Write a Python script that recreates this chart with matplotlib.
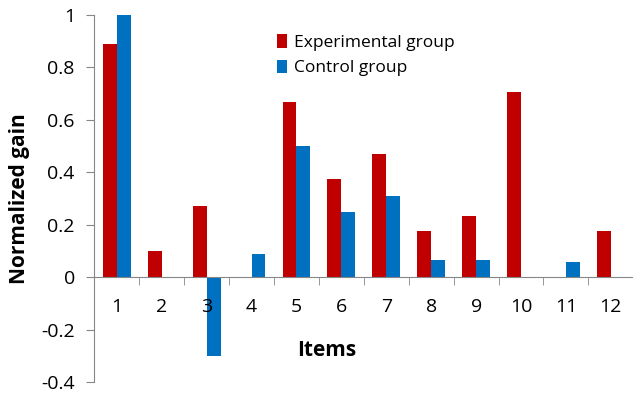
import numpy as np
import matplotlib.pyplot as plt
from matplotlib.ticker import FixedLocator, NullFormatter

plt.rcParams['font.family'] = ['Open Sans', 'DejaVu Sans']

items = ['1', '2', '3', '4', '5', '6', '7', '8', '9', '10', '11', '12']
experimental = [0.89, 0.10, 0.27, 0.0, 0.667, 0.375, 0.47, 0.177, 0.235, 0.706, 0.0, 0.177]
control = [1.0, 0.0, -0.30, 0.09, 0.50, 0.25, 0.31, 0.066, 0.066, 0.0, 0.058, 0.0]

fig = plt.figure(figsize=(6.33, 3.96), dpi=100)
ax = fig.add_axes([0.149, 0.0354, 0.8515, 0.9268])

x = np.arange(1, len(items) + 1)
w = 0.31
ax.bar(x - w / 2, experimental, width=w, color='#C00000', label='Experimental group')
ax.bar(x + w / 2, control, width=w, color='#0070C0', label='Control group')

ax.set_xlim(0.5, 12.5)
ax.set_ylim(-0.4, 1.0)
ax.set_yticks(np.arange(-0.4, 1.01, 0.2))
ax.set_yticklabels(['-0.4', '-0.2', '0', '0.2', '0.4', '0.6', '0.8', '1'])

ax.set_xticks(x)
ax.set_xticklabels(items)
ax.xaxis.set_minor_locator(FixedLocator(np.arange(1.5, 12.5, 1)))
ax.xaxis.set_minor_formatter(NullFormatter())
ax.tick_params(axis='x', which='major', length=0, pad=15, labelsize=14)
ax.tick_params(axis='x', which='minor', length=6, direction='out', color='#868686')
ax.tick_params(axis='y', length=6, direction='out', color='#868686', pad=8, labelsize=14)

for s in ['top', 'right']:
    ax.spines[s].set_visible(False)
ax.spines['bottom'].set_position(('data', 0))
ax.spines['bottom'].set_color('#868686')
ax.spines['left'].set_color('#868686')

ax.set_ylabel('Normalized gain', fontsize=15, fontweight='bold', labelpad=8)
ax.text(5.68, -0.28, 'Items', fontsize=15, fontweight='bold', ha='center', va='center')

ax.legend(loc='upper left', bbox_to_anchor=(0.31, 0.99), frameon=False, fontsize=12.5,
          handlelength=0.6, handleheight=0.8, handletextpad=0.4, labelspacing=0.5)

plt.savefig('out.png', dpi=100)
